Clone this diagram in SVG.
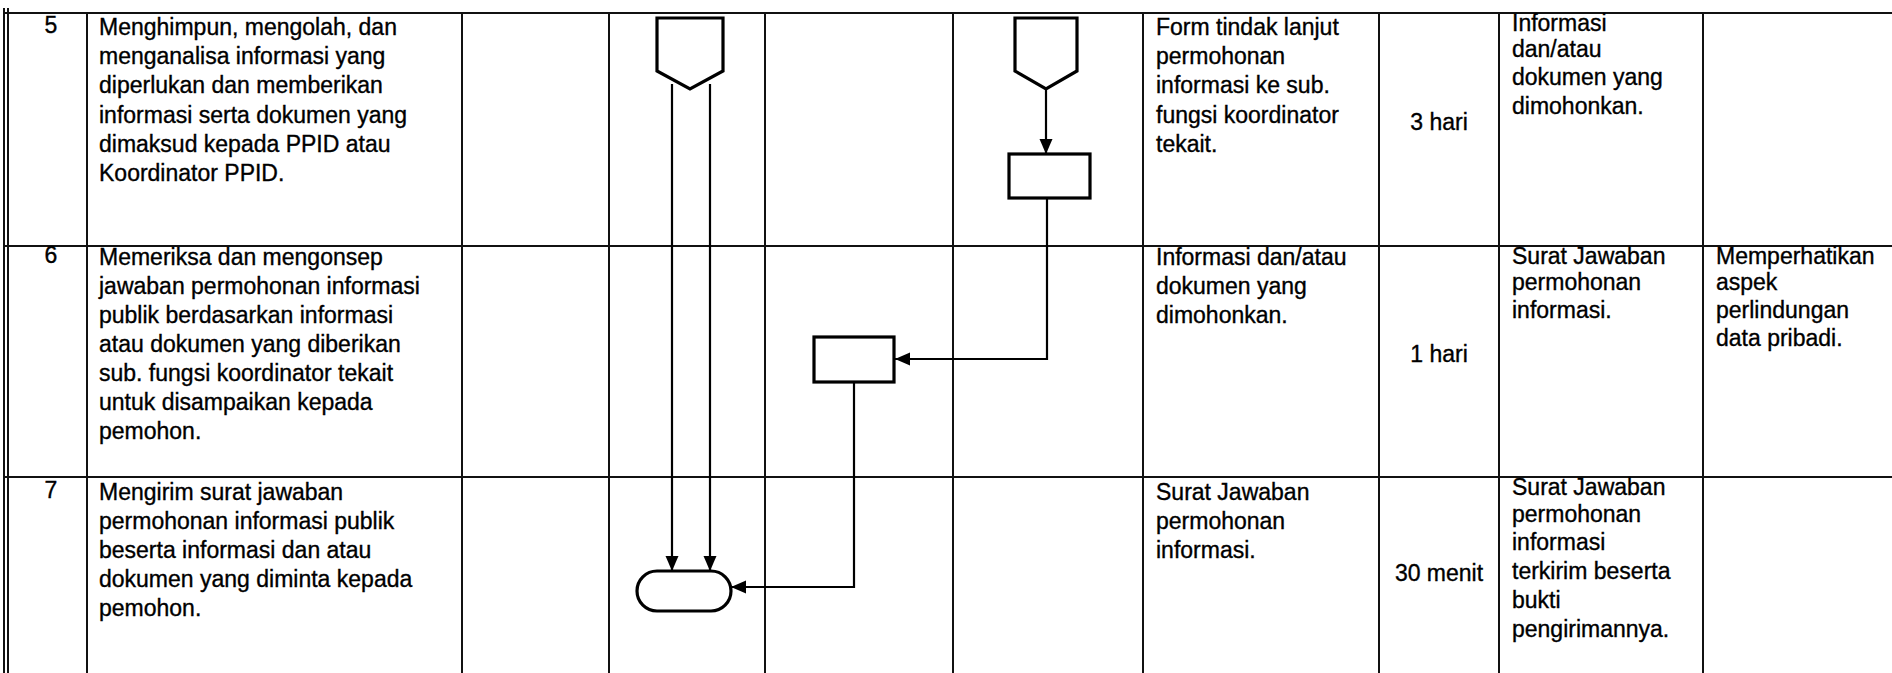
<svg xmlns="http://www.w3.org/2000/svg" width="1892" height="673" viewBox="0 0 1892 673">
<style>
.bg{fill:#fff}
.grid line{stroke:#111;stroke-width:2}
.thin{stroke:#222;stroke-width:1.3}
.shape{fill:#fff;stroke:#000;stroke-width:3.2;stroke-linejoin:miter}
.conn{fill:none;stroke:#000;stroke-width:2.2}
text{font-family:"Liberation Sans",Arial,sans-serif;font-size:23px;fill:#000;stroke:#000;stroke-width:0.35}
.num{text-anchor:middle}
.mid{text-anchor:middle}
</style>
<defs>
<marker id="arr" markerUnits="userSpaceOnUse" markerWidth="16" markerHeight="16" viewBox="0 0 16 16" refX="15" refY="8" orient="auto">
<path d="M0 1.5 L15 8 L0 14.5 Z" fill="#000"/>
</marker>
</defs>
<rect class="bg" x="0" y="0" width="1892" height="673"/>
<g id="table" class="grid">
<line x1="4" y1="13" x2="1892" y2="13"/>
<line x1="4" y1="246" x2="1892" y2="246"/>
<line x1="4" y1="477" x2="1892" y2="477"/>
<line class="thin" x1="4" y1="8" x2="4" y2="673"/>
<line x1="8" y1="8" x2="8" y2="673"/>
<line x1="87" y1="13" x2="87" y2="673"/>
<line x1="462" y1="13" x2="462" y2="673"/>
<line x1="609" y1="13" x2="609" y2="673"/>
<line x1="765" y1="13" x2="765" y2="673"/>
<line x1="953" y1="13" x2="953" y2="673"/>
<line x1="1143" y1="13" x2="1143" y2="673"/>
<line x1="1379" y1="13" x2="1379" y2="673"/>
<line x1="1499" y1="13" x2="1499" y2="673"/>
<line x1="1703" y1="13" x2="1703" y2="673"/>
</g>
<g id="row5-text">
<text class="num" x="51" y="33">5</text>
<text x="99" y="35">Menghimpun, mengolah, dan</text>
<text x="99" y="64">menganalisa informasi yang</text>
<text x="99" y="93">diperlukan dan memberikan</text>
<text x="99" y="123">informasi serta dokumen yang</text>
<text x="99" y="152">dimaksud kepada PPID atau</text>
<text x="99" y="181">Koordinator PPID.</text>
<text x="1156" y="35">Form tindak lanjut</text>
<text x="1156" y="64">permohonan</text>
<text x="1156" y="93">informasi ke sub.</text>
<text x="1156" y="123">fungsi koordinator</text>
<text x="1156" y="152">tekait.</text>
<text class="mid" x="1439" y="130">3 hari</text>
<text x="1512" y="31">Informasi</text>
<text x="1512" y="57">dan/atau</text>
<text x="1512" y="85">dokumen yang</text>
<text x="1512" y="114">dimohonkan.</text>
</g>
<g id="row6-text">
<text class="num" x="51" y="263">6</text>
<text x="99" y="265">Memeriksa dan mengonsep</text>
<text x="99" y="294">jawaban permohonan informasi</text>
<text x="99" y="323">publik berdasarkan informasi</text>
<text x="99" y="352">atau dokumen yang diberikan</text>
<text x="99" y="381">sub. fungsi koordinator tekait</text>
<text x="99" y="410">untuk disampaikan kepada</text>
<text x="99" y="439">pemohon.</text>
<text x="1156" y="265">Informasi dan/atau</text>
<text x="1156" y="294">dokumen yang</text>
<text x="1156" y="323">dimohonkan.</text>
<text class="mid" x="1439" y="362">1 hari</text>
<text x="1512" y="264">Surat Jawaban</text>
<text x="1512" y="290">permohonan</text>
<text x="1512" y="318">informasi.</text>
<text x="1716" y="264">Memperhatikan</text>
<text x="1716" y="290">aspek</text>
<text x="1716" y="318">perlindungan</text>
<text x="1716" y="346">data pribadi.</text>
</g>
<g id="row7-text">
<text class="num" x="51" y="498">7</text>
<text x="99" y="500">Mengirim surat jawaban</text>
<text x="99" y="529">permohonan informasi publik</text>
<text x="99" y="558">beserta informasi dan atau</text>
<text x="99" y="587">dokumen yang diminta kepada</text>
<text x="99" y="616">pemohon.</text>
<text x="1156" y="500">Surat Jawaban</text>
<text x="1156" y="529">permohonan</text>
<text x="1156" y="558">informasi.</text>
<text class="mid" x="1439" y="581">30 menit</text>
<text x="1512" y="495">Surat Jawaban</text>
<text x="1512" y="522">permohonan</text>
<text x="1512" y="550">informasi</text>
<text x="1512" y="579">terkirim beserta</text>
<text x="1512" y="608">bukti</text>
<text x="1512" y="637">pengirimannya.</text>
</g>
<g id="connectors">
<path class="conn" d="M672 84 V571" marker-end="url(#arr)"/>
<path class="conn" d="M710 84 V571" marker-end="url(#arr)"/>
<path class="conn" d="M1046 89 V154" marker-end="url(#arr)"/>
<path class="conn" d="M1047 198 V359 H895" marker-end="url(#arr)"/>
<path class="conn" d="M854 382 V587 H731" marker-end="url(#arr)"/>
</g>
<g id="offpage1">
<path class="shape" d="M657 18 H723 V71 L690 89 L657 71 Z"/>
</g>
<g id="offpage2">
<path class="shape" d="M1015 18 H1077 V71 L1046 89 L1015 71 Z"/>
</g>
<g id="process5">
<rect class="shape" x="1009" y="154" width="81" height="44"/>
</g>
<g id="process6">
<rect class="shape" x="814" y="337" width="80" height="45"/>
</g>
<g id="terminal7">
<rect class="shape" x="637" y="571" width="94" height="40" rx="20" ry="20"/>
</g>
</svg>
